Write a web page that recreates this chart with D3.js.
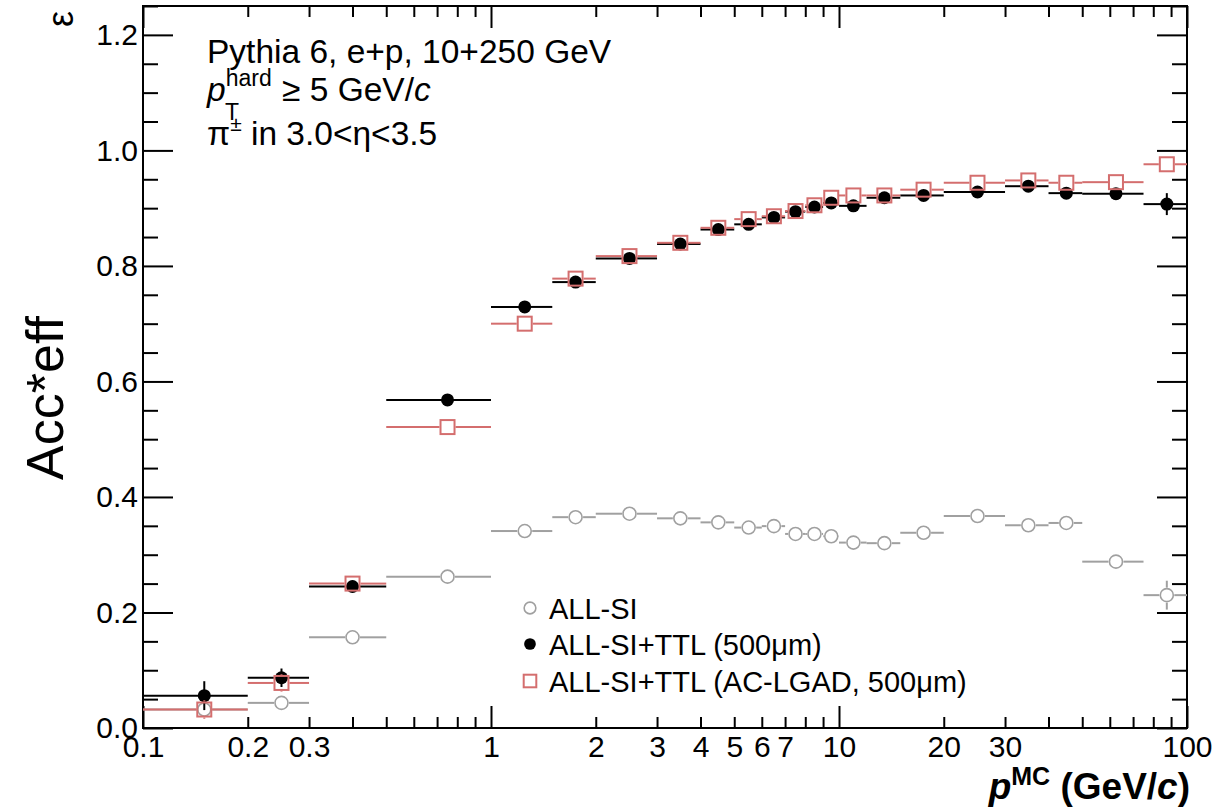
<!DOCTYPE html>
<html>
<head>
<meta charset="utf-8">
<script src="https://cdn.jsdelivr.net/npm/d3@7"></script>
<style>
  html, body { margin: 0; padding: 0; background: #fff; }
  svg { display: block; font-family: "Liberation Sans", Arial, Helvetica, sans-serif; }
</style>
</head>
<body>
<svg id="chart" width="1219" height="809"></svg>
<script>
// Momentum bins (GeV/c) and bin centres
const binEdges   = [0.1, 0.2, 0.3, 0.5, 1, 1.5, 2, 3, 4, 5, 6, 7, 8, 9, 10, 12, 15, 20, 30, 40, 50, 75, 100];
const binCenters = [0.15, 0.25, 0.4, 0.75, 1.25, 1.75, 2.5, 3.5, 4.5, 5.5, 6.5, 7.5, 8.5, 9.5, 11, 13.5, 17.5, 25, 35, 45, 62.5, 87.5];

// Acceptance x efficiency per bin
const allSi      = [0.032, 0.0435, 0.157, 0.262, 0.341, 0.365, 0.371, 0.363, 0.356, 0.347, 0.3495, 0.336, 0.336, 0.332, 0.321, 0.320, 0.338, 0.367, 0.351, 0.355, 0.288, 0.230];
const allSiErr   = [0.012, 0.008, 0.006, 0.005, 0.004, 0.004, 0.004, 0.004, 0.004, 0.004, 0.004, 0.004, 0.004, 0.004, 0.004, 0.005, 0.006, 0.007, 0.008, 0.009, 0.010, 0.025];
const allSiTtl   = [0.056, 0.087, 0.245, 0.568, 0.729, 0.772, 0.813, 0.838, 0.863, 0.872, 0.884, 0.894, 0.902, 0.909, 0.904, 0.918, 0.922, 0.928, 0.938, 0.926, 0.925, 0.907];
const allSiTtlErr= [0.025, 0.016, 0.010, 0.006, 0.005, 0.004, 0.004, 0.004, 0.004, 0.005, 0.005, 0.005, 0.005, 0.006, 0.006, 0.007, 0.008, 0.008, 0.009, 0.010, 0.009, 0.019];
const acLgad     = [0.032, 0.078, 0.250, 0.521, 0.700, 0.778, 0.817, 0.840, 0.866, 0.881, 0.886, 0.895, 0.905, 0.918, 0.922, 0.922, 0.932, 0.944, 0.948, 0.944, 0.945, 0.976];
const acLgadErr  = [0.016, 0.015, 0.010, 0.006, 0.005, 0.004, 0.004, 0.004, 0.004, 0.005, 0.005, 0.005, 0.005, 0.006, 0.006, 0.007, 0.008, 0.008, 0.009, 0.010, 0.009, 0.012];

// Axis ticks
const xMajorTicks = [0.1, 1, 10, 100];
const xMinorTicks = [0.2, 0.3, 0.4, 0.5, 0.6, 0.7, 0.8, 0.9, 2, 3, 4, 5, 6, 7, 8, 9, 20, 30, 40, 50, 60, 70, 80, 90];
const xTickLabels = [0.1, 0.2, 0.3, 1, 2, 3, 4, 5, 6, 7, 10, 20, 30, 100];
const yMajorTicks = [0, 0.2, 0.4, 0.6, 0.8, 1.0, 1.2];
const yMinorTicks = [0.05, 0.1, 0.15, 0.25, 0.3, 0.35, 0.45, 0.5, 0.55, 0.65, 0.7, 0.75, 0.85, 0.9, 0.95, 1.05, 1.1, 1.15, 1.25];

const svg = d3.select("#chart");
const L = 143, R = 1187, T = 6, B = 728;

const x = d3.scaleLog().domain([0.1, 100]).range([L, R]);
const y = d3.scaleLinear().domain([0, 1.25]).range([B, T]);

const font = '"Liberation Sans", Arial, Helvetica, sans-serif';

// ---- axes (ticks point inward, on all four sides) ----
function tickAxis(axisGen, transform, values, size) {
  const g = svg.append("g").attr("transform", transform)
    .call(axisGen.tickValues(values).tickSize(size).tickFormat(""));
  g.select(".domain").remove();
  g.selectAll(".tick line").attr("stroke", "#000").attr("stroke-width", 2);
  return g;
}
tickAxis(d3.axisBottom(x), `translate(0,${B})`, xMajorTicks, -22);
tickAxis(d3.axisBottom(x), `translate(0,${B})`, xMinorTicks, -11);
tickAxis(d3.axisTop(x), `translate(0,${T})`, xMajorTicks, -22);
tickAxis(d3.axisTop(x), `translate(0,${T})`, xMinorTicks, -11);
tickAxis(d3.axisLeft(y), `translate(${L},0)`, yMajorTicks, -30);
tickAxis(d3.axisLeft(y), `translate(${L},0)`, yMinorTicks, -15);
tickAxis(d3.axisRight(y), `translate(${R},0)`, yMajorTicks, -30);
tickAxis(d3.axisRight(y), `translate(${R},0)`, yMinorTicks, -15);

// tick labels
const xl = svg.append("g").attr("transform", `translate(0,${B})`)
  .call(d3.axisBottom(x).tickValues(xTickLabels).tickSize(0).tickPadding(8)
    .tickFormat(d => d < 1 ? d3.format(".1f")(d) : d3.format("d")(d)));
xl.select(".domain").remove();
xl.selectAll("text").attr("font-size", 30).attr("font-family", font).attr("fill", "#000")
  .attr("dy", "0.71em");

const yl = svg.append("g").attr("transform", `translate(${L},0)`)
  .call(d3.axisLeft(y).tickValues(yMajorTicks).tickSize(0).tickPadding(5)
    .tickFormat(d3.format(".1f")));
yl.select(".domain").remove();
yl.selectAll("text").attr("font-size", 30).attr("font-family", font).attr("fill", "#000");

// frame
svg.append("rect").attr("x", L).attr("y", T).attr("width", R - L).attr("height", B - T)
  .attr("fill", "none").attr("stroke", "#000").attr("stroke-width", 2);

// ---- data series ----
const series = [
  { name: "ALL-SI", vals: allSi, errs: allSiErr, color: "#a0a0a0", marker: "openCircle" },
  { name: "ALL-SI+TTL (500\u03bcm)", vals: allSiTtl, errs: allSiTtlErr, color: "#000000", marker: "dot" },
  { name: "ALL-SI+TTL (AC-LGAD, 500\u03bcm)", vals: acLgad, errs: acLgadErr, color: "#d46e6e", marker: "openSquare" }
];

const plot = svg.append("g");
const R_CIRC = 6.5, HALF_SQ = 7;

series.forEach(s => {
  const g = plot.append("g");
  const gap = s.marker === "dot" ? 0 : (s.marker === "openSquare" ? HALF_SQ + 1 : R_CIRC + 1);
  binCenters.forEach((c, i) => {
    const cx = x(c), cy = y(s.vals[i]);
    const x0 = x(binEdges[i]), x1 = x(binEdges[i + 1]);
    const yTop = y(s.vals[i] + s.errs[i]), yBot = y(s.vals[i] - s.errs[i]);
    // horizontal bin width bar
    g.append("line").attr("x1", x0).attr("x2", Math.max(x0, cx - gap)).attr("y1", cy).attr("y2", cy)
      .attr("stroke", s.color).attr("stroke-width", 2);
    g.append("line").attr("x1", Math.min(x1, cx + gap)).attr("x2", x1).attr("y1", cy).attr("y2", cy)
      .attr("stroke", s.color).attr("stroke-width", 2);
    // vertical statistical error bar
    if (cy - yTop > gap) {
      g.append("line").attr("x1", cx).attr("x2", cx).attr("y1", yTop).attr("y2", cy - gap)
        .attr("stroke", s.color).attr("stroke-width", 2);
      g.append("line").attr("x1", cx).attr("x2", cx).attr("y1", cy + gap).attr("y2", yBot)
        .attr("stroke", s.color).attr("stroke-width", 2);
    }
    drawMarker(g, s.marker, cx, cy, s.color, 1);
  });
});

function drawMarker(g, type, cx, cy, color, k) {
  if (type === "dot") {
    g.append("circle").attr("cx", cx).attr("cy", cy).attr("r", R_CIRC * k).attr("fill", color);
  } else if (type === "openCircle") {
    g.append("circle").attr("cx", cx).attr("cy", cy).attr("r", R_CIRC * k)
      .attr("fill", "none").attr("stroke", color).attr("stroke-width", 1.6);
  } else {
    const h = HALF_SQ * k;
    g.append("rect").attr("x", cx - h).attr("y", cy - h).attr("width", 2 * h).attr("height", 2 * h)
      .attr("fill", "none").attr("stroke", color).attr("stroke-width", 2);
  }
}

// ---- legend ----
const legend = svg.append("g");
const legendY = [608, 644, 681];
series.forEach((s, i) => {
  drawMarker(legend, s.marker, 530, legendY[i], s.color, 0.9);
  legend.append("text").attr("x", 549).attr("y", legendY[i] + 10.5)
    .attr("font-size", 29).attr("font-family", font).text(s.name);
});

// ---- annotations ----
const ann = svg.append("g").attr("font-family", font).attr("fill", "#000");
ann.append("text").attr("x", 207).attr("y", 63).attr("font-size", 33.5)
  .text("Pythia 6, e+p, 10+250 GeV");

const l2 = ann.append("text").attr("x", 207).attr("y", 101).attr("font-size", 33.5);
l2.append("tspan").attr("font-style", "italic").text("p");
l2.append("tspan").attr("font-size", 23).attr("dy", -15).text("hard");
l2.append("tspan").attr("font-size", 23).attr("x", 225).attr("dy", 34).text("T");
l2.append("tspan").attr("x", 282).attr("dy", -19).text("\u2265 5 GeV/");
l2.append("tspan").attr("font-style", "italic").text("c");

const l3 = ann.append("text").attr("x", 207).attr("y", 145).attr("font-size", 33.5);
l3.append("tspan").text("\u03c0");
l3.append("tspan").attr("font-size", 21).attr("dy", -14).text("\u00b1");
l3.append("tspan").attr("dy", 14).text(" in 3.0<\u03b7<3.5");

// axis titles
svg.append("text").attr("transform", "translate(63,398) rotate(-90)")
  .attr("text-anchor", "middle").attr("font-size", 52).attr("font-family", font).text("Acc*eff");
svg.append("text").attr("transform", "translate(73,19) rotate(-90)")
  .attr("text-anchor", "middle").attr("font-size", 36).attr("font-family", font).text("\u03b5");

const xt = svg.append("text").attr("x", 1190).attr("y", 799).attr("text-anchor", "end")
  .attr("font-size", 37).attr("font-weight", "bold").attr("font-family", font);
xt.append("tspan").attr("font-style", "italic").text("p");
xt.append("tspan").attr("font-size", 25).attr("dy", -14).text("MC");
xt.append("tspan").attr("dy", 14).text(" (GeV/");
xt.append("tspan").attr("font-style", "italic").text("c");
xt.append("tspan").text(")");
</script>
</body>
</html>
